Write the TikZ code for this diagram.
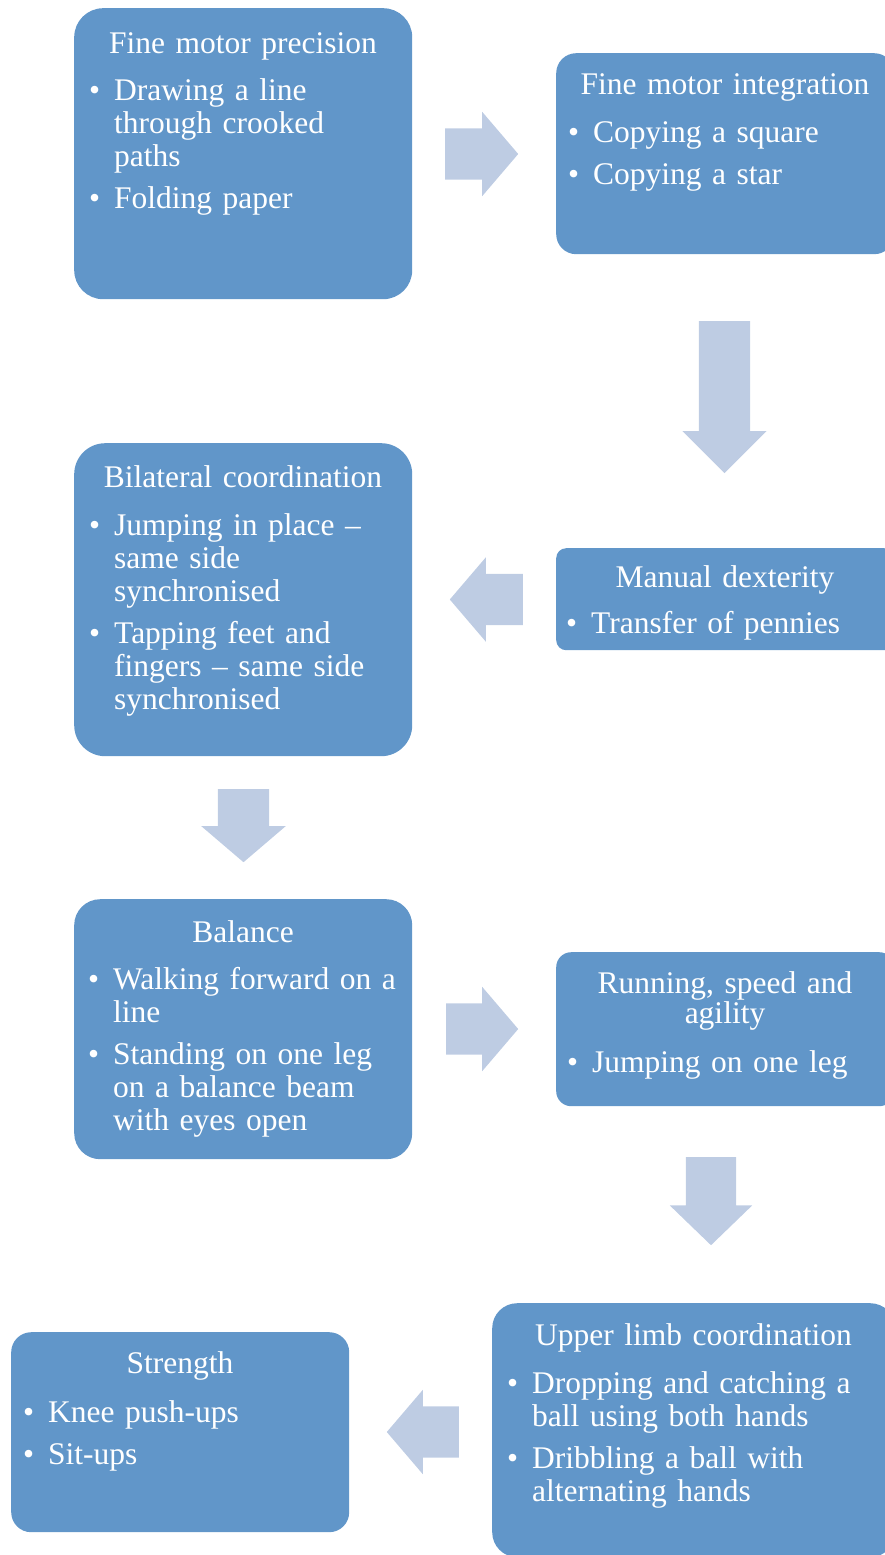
\documentclass[tikz,border=0pt]{standalone}
\usepackage{fontspec}
\setmainfont{Liberation Serif}
\usetikzlibrary{shapes.arrows}
\definecolor{boxblue}{HTML}{6196C9}
\definecolor{arrowblue}{HTML}{BECCE3}
% one bullet point, hanging indent
\newcommand{\bitem}[1]{\setlength{\parskip}{9pt}\hangindent=25pt\hangafter=1\noindent\makebox[25pt][l]{\textbullet}#1\par}

\begin{document}
\begin{tikzpicture}[x=1pt, y=-1pt,
    font=\fontsize{31.5}{33}\selectfont,
    box/.style={rectangle, fill=boxblue, anchor=north west, minimum width=338, inner sep=0pt},
    head/.style={text=white, anchor=base, text width=400, align=center, inner sep=0pt},
    items/.style={text=white, anchor=base west, text width=380, align=left, inner sep=0pt},
    arr/.style={single arrow, fill=arrowblue, anchor=tail, inner xsep=0pt, inner ysep=25.5pt, single arrow head extend=16.5pt, minimum height=73, single arrow tip angle=99}]
    \path[use as bounding box, clip] (0,0) rectangle (885,1555);

    % Fine motor precision
    \node[box, minimum height=291, rounded corners=29] (fmp) at (74,8) {};
    \node[head] (fmp-head) at (243,53) {Fine motor precision};
    \node[items] (fmp-list) at (89,100) {\bitem{Drawing a line\newline through crooked\newline paths}\bitem{Folding paper}};

    % Fine motor integration
    \node[box, minimum height=201, rounded corners=20] (fmi) at (556,53) {};
    \node[head] (fmi-head) at (725,95) {Fine motor integration};
    \node[items] (fmi-list) at (568,142) {\bitem{Copying a square}\bitem{Copying a star}};

    % Manual dexterity
    \node[box, minimum height=102, rounded corners=10] (mdx) at (556,548) {};
    \node[head] (mdx-head) at (725,587) {Manual dexterity};
    \node[items] (mdx-list) at (566,633) {\bitem{Transfer of pennies}};

    % Bilateral coordination
    \node[box, minimum height=313, rounded corners=31] (bil) at (74,443) {};
    \node[head] (bil-head) at (243,487) {Bilateral coordination};
    \node[items] (bil-list) at (89,535) {\bitem{Jumping in place --\newline same side\newline synchronised}\bitem{Tapping feet and\newline fingers -- same side\newline synchronised}};

    % Balance
    \node[box, minimum height=260, rounded corners=26] (bal) at (74,899) {};
    \node[head] (bal-head) at (243,942) {Balance};
    \node[items] (bal-list) at (88,989) {\bitem{Walking forward on a\newline line}\bitem{Standing on one leg\newline on a balance beam\newline with eyes open}};

    % Running, speed and agility
    \node[box, minimum height=154, rounded corners=15] (run) at (556,952) {};
    \node[head] (run-head) at (725,993) {Running, speed and\\[-3pt]agility};
    \node[items] (run-list) at (567,1072) {\bitem{Jumping on one leg}};

    % Upper limb coordination
    \node[box, minimum width=403, minimum height=254, rounded corners=25] (ulc) at (492,1303) {};
    \node[head] (ulc-head) at (693.5,1345) {Upper limb coordination};
    \node[items] (ulc-list) at (507,1393) {\bitem{Dropping and catching a\newline ball using both hands}\bitem{Dribbling a ball with\newline alternating hands}};

    % Strength
    \node[box, minimum height=200, rounded corners=20] (str) at (11,1332) {};
    \node[head] (str-head) at (180,1373) {Strength};
    \node[items] (str-list) at (23,1422) {\bitem{Knee push-ups}\bitem{Sit-ups}};

    % Process arrows
    \node[arr] (a1) at (445,154) {};
    \node[arr, minimum height=152, single arrow tip angle=90, rotate=-90] (a2) at (724.5,321) {};
    \node[arr, rotate=180] (a3) at (523,599.5) {};
    \node[arr, rotate=-90] (a4) at (243.5,789) {};
    \node[arr, minimum height=72] (a5) at (446,1029) {};
    \node[arr, inner ysep=25pt, single arrow head extend=16pt, minimum height=88, single arrow tip angle=92, rotate=-90] (a6) at (711,1157) {};
    \node[arr, minimum height=72, rotate=180] (a7) at (459,1432) {};
\end{tikzpicture}
\end{document}
